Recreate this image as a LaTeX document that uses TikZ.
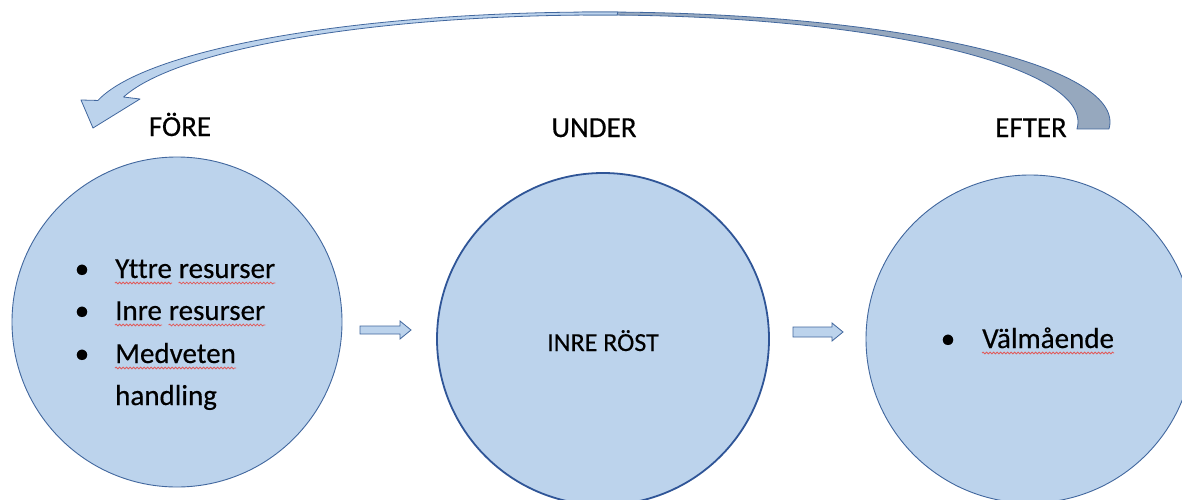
\documentclass[tikz,border=0pt]{standalone}
\usepackage{fontspec}
\setmainfont[Ligatures=NoCommon, UprightFeatures={FakeBold=0.4}]{Carlito}
\usetikzlibrary{decorations.pathmorphing}
\definecolor{cfill}{HTML}{BCD3EC}
\definecolor{cline}{HTML}{41679E}
\definecolor{cdark}{HTML}{2F5597}
\definecolor{cback}{HTML}{96A8BE}
\definecolor{squig}{HTML}{E05A5A}
\begin{document}
\begin{tikzpicture}[x=1pt,y=-1pt,
  bubble/.style={circle, inner sep=0pt, minimum size=#1, fill=cfill, draw=cline, line width=0.9pt},
  lbl/.style={inner sep=0pt, font=\fontsize{29}{35}\selectfont, anchor=base},
  word/.style={inner sep=0pt, font=\fontsize{29}{35}\selectfont, anchor=base west},
  dotmark/.style={inner sep=0pt, font=\fontsize{29}{35}\selectfont, anchor=base},
  wavy/.style={draw=squig, line width=0.8pt, decorate, decoration={snake, amplitude=0.9pt, segment length=3.5pt}},
  blockarr/.style={fill=cfill, draw=cline, line width=0.8pt, line join=miter},
  band/.style={draw=cline, line width=0.8pt, line join=round}]
\clip (0,0) rectangle (1182,500);
\fill[white] (0,0) rectangle (1182,500);

% curved return arrow: back (dark) side
\path[band, fill=cback]
  plot[domain=92:-3.6, samples=80] ({600+510*cos(\x)},{122-110*sin(\x)})
  -- plot[domain=-3.75:92, samples=80] ({600+478*cos(\x)},{122-107*sin(\x)})
  -- cycle;
% front (light) side with head
\path[band, fill=cfill]
  plot[domain=168.7:88, samples=80] ({600+512*cos(\x)},{122-110*sin(\x)})
  -- plot[domain=88:166.5, samples=80] ({600+490*cos(\x)},{122-107*sin(\x)})
  -- (140,99) -- (93,128) -- (81,100) -- cycle;

% circles
\node[bubble=330pt] (c1) at (177,322) {};
\node[bubble=332pt, draw=cdark, line width=1.8pt] (c2) at (603,339) {};
\node[bubble=328pt] (c3) at (1030,339) {};

% headings
\node[lbl] (h1) at (180,136) {FÖRE};
\node[lbl] (h2) at (594,137) {UNDER};
\node[lbl] (h3) at (1031,137) {EFTER};

% left bullets
\node[dotmark] (b1) at (82,278) {•};
\node[word] (w1) at (115,278) {Yttre};
\node[word] (w2) at ([xshift=6.6pt]w1.base east) {resurser};
\node[dotmark] (b2) at (82,320) {•};
\node[word] (w3) at (115,320) {Inre};
\node[word] (w4) at ([xshift=6.6pt]w3.base east) {resurser};
\node[dotmark] (b3) at (82,363) {•};
\node[word] (w5) at (115,363) {Medveten};
\node[word] (w6) at (115,405) {handling};

\draw[wavy] ([yshift=-5pt]w1.base west) -- ([yshift=-5pt]w1.base east);
\draw[wavy] ([yshift=-5pt]w2.base west) -- ([yshift=-5pt]w2.base east);
\draw[wavy] ([yshift=-5pt]w3.base west) -- ([yshift=-5pt]w3.base east);
\draw[wavy] ([yshift=-5pt]w4.base west) -- ([yshift=-5pt]w4.base east);
\draw[wavy] ([yshift=-5pt]w5.base west) -- ([yshift=-5pt]w5.base east);

% middle text
\node[lbl, font=\fontsize{26}{30}\selectfont] (t2) at (603,351) {INRE RÖST};

% right bullet
\node[dotmark] (b4) at (948,348) {•};
\node[word] (w7) at (982,348) {Välmående};
\draw[wavy] ([yshift=-5pt]w7.base west) -- ([yshift=-5pt]w7.base east);

% block arrows between circles
\draw[blockarr] (360,326) -- (400,326) -- (400,321) -- (411,330) -- (400,339) -- (400,334) -- (360,334) -- cycle;
\draw[blockarr] (793,327) -- (832,327) -- (832,323) -- (843,332) -- (832,341) -- (832,337) -- (793,337) -- cycle;
\end{tikzpicture}
\end{document}
